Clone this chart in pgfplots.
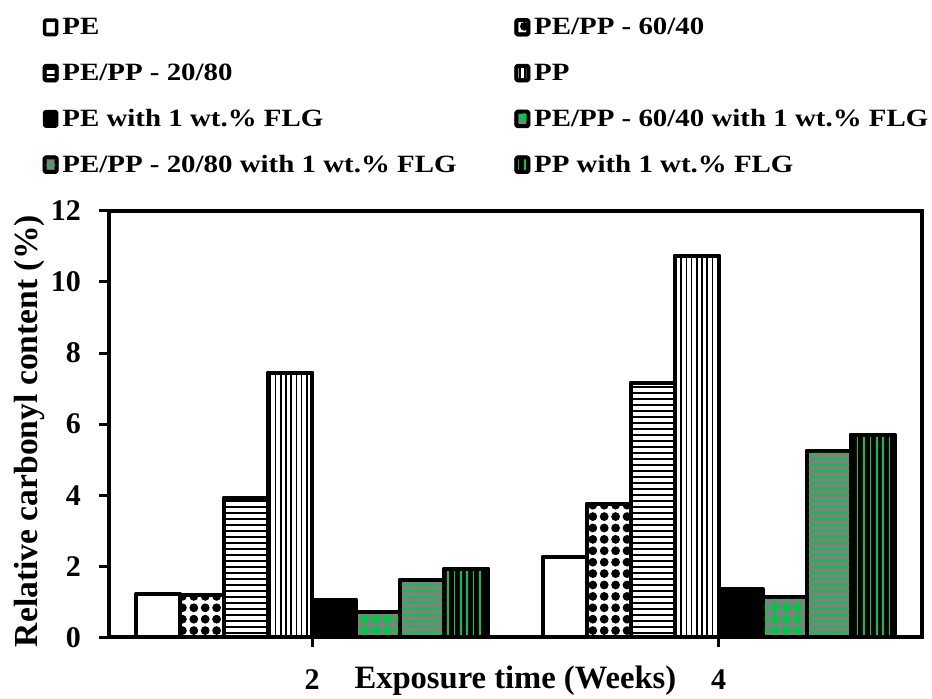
\documentclass[border=0pt]{standalone}
\usepackage{fontspec}
\setmainfont{Liberation Serif}
\usepackage{graphicx}
\usepackage{pgfplots}
\pgfplotsset{compat=1.18}
\usetikzlibrary{patterns,patterns.meta}
\definecolor{flg}{RGB}{0,200,70}
\definecolor{flggray}{RGB}{128,128,128}
\newcommand{\legtxt}[1]{\scalebox{1}[0.86]{#1}}
\begin{document}
\begin{tikzpicture}
\useasboundingbox (0,0) rectangle (466pt,349.5pt);
\begin{axis}[
  at={(54.5pt,30.85pt)}, anchor=south west,
  scale only axis, width=406.4pt, height=213.2pt,
  xmin=-0.5, xmax=1.5, ymin=0, ymax=12,
  ytick={0,2,4,6,8,10,12},
  xtick={0,1}, xticklabels={2,4},
  ybar=0pt, bar width=22pt,
  axis line style={line width=2pt, line cap=rect},
  tick style={line width=1.5pt, black},
  major tick length=5pt,
  tick align=outside,
  xtick pos=bottom, ytick pos=left,
  /pgf/number format/assume math mode=true,
  ticklabel style={font=\fontsize{15}{17}\selectfont\bfseries},
  yticklabel style={xshift=-5.5pt},
  xticklabel style={anchor=base, yshift=-21pt},
  xlabel={Exposure time (Weeks)},
  ylabel={Relative carbonyl content (\%)},
  xlabel style={font=\fontsize{16.3}{18}\selectfont\bfseries, at={(axis description cs:0.5,0)}, anchor=base, yshift=-25.8pt},
  ylabel style={font=\fontsize{16.8}{18}\selectfont\bfseries, at={(axis description cs:0,0.5)}, anchor=south, inner sep=0pt, yshift=32pt, xshift=-3.5pt},
  legend columns=2,
  legend cell align=left,
  legend style={draw=none, fill=none, inner sep=0pt,
    at={(axis description cs:-0.0819,1.47)}, anchor=north west,
    font=\fontsize{14.45}{17}\selectfont\bfseries,
    nodes={text height=10pt, text depth=3pt, inner sep=2pt},
    /tikz/every even column/.append style={column sep=27pt},
    row sep=5.9pt},
  legend image code/.code={\draw[#1, line width=1.8pt, rounded corners=0.6pt] (0.9pt,-3.3pt) rectangle (6.9pt,3.9pt);},
  every axis plot/.append style={draw=black, line width=2pt, line join=round},
]
\addplot[fill=white] coordinates {(0,1.23) (1,2.27)};
\addlegendentry{\legtxt{PE}}
\addplot[preaction={fill=white}, pattern={Dots[distance=5.7pt, angle=0, radius=2.2pt]}, pattern color=black] coordinates {(0,1.20) (1,3.75)};
\addlegendentry{\legtxt{PE/PP - 60/40}}
\addplot[preaction={fill=white}, pattern={Lines[angle=0, distance=3pt, line width=0.9pt]}, pattern color=black] coordinates {(0,3.93) (1,7.15)};
\addlegendentry{\legtxt{PE/PP - 20/80}}
\addplot[preaction={fill=white}, pattern={Lines[angle=90, distance=2.6pt, line width=0.8pt]}, pattern color=black] coordinates {(0,7.45) (1,10.74)};
\addlegendentry{\legtxt{PP}}
\addplot[fill=black] coordinates {(0,1.06) (1,1.37)};
\addlegendentry{\legtxt{PE with 1 wt.\% FLG}}
\addplot[preaction={fill=flggray}, pattern={Dots[distance=5.7pt, angle=0, radius=2.3pt]}, pattern color=flg] coordinates {(0,0.70) (1,1.13)};
\addlegendentry{\legtxt{PE/PP - 60/40 with 1 wt.\% FLG}}
\addplot[preaction={fill=flggray}, pattern={Lines[angle=0, distance=3pt, line width=1.3pt]}, pattern color=flg] coordinates {(0,1.62) (1,5.24)};
\addlegendentry{\legtxt{PE/PP - 20/80 with 1 wt.\% FLG}}
\addplot[preaction={fill=black}, pattern={Lines[angle=90, distance=3.2pt, line width=0.8pt]}, pattern color=flg] coordinates {(0,1.92) (1,5.69)};
\addlegendentry{\legtxt{PP with 1 wt.\% FLG}}
\end{axis}
\end{tikzpicture}
\end{document}
